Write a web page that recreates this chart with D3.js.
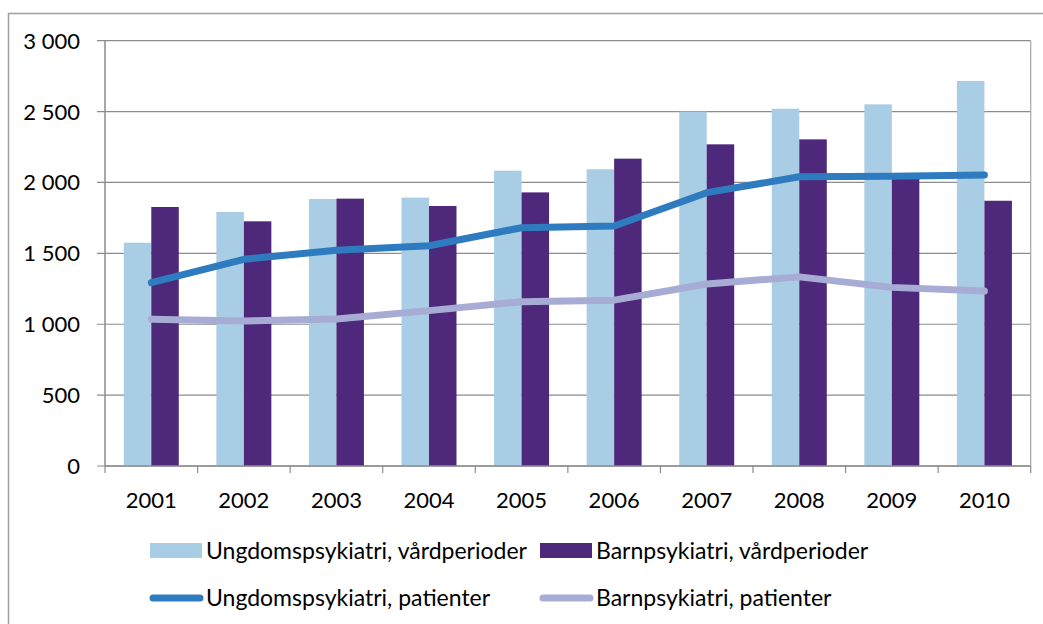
<!DOCTYPE html>
<html lang="sv">
<head>
<meta charset="UTF-8">
<script src="https://d3js.org/d3.v7.min.js"></script>
<title>Vårdperioder och patienter</title>
<style>
  body { margin: 0; background: #fff; }
  text { font-family: Lato, "Open Sans", sans-serif; fill: #000; }
</style>
</head>
<body>
<div id="chart"></div>
<script>
// data
const years = ["2001", "2002", "2003", "2004", "2005", "2006", "2007", "2008", "2009", "2010"];
const ungdomVard = [1575, 1792, 1883, 1893, 2083, 2093, 2500, 2520, 2551, 2716];
const barnVard = [1827, 1726, 1886, 1834, 1930, 2168, 2269, 2304, 2055, 1871];
const ungdomPat = [1293, 1458, 1522, 1554, 1681, 1693, 1928, 2040, 2043, 2053];
const barnPat = [1035, 1023, 1037, 1096, 1159, 1170, 1284, 1334, 1260, 1234];
const yTicks = [0, 500, 1000, 1500, 2000, 2500, 3000];

const width = 1043, height = 624;
const margin = { top: 40.7, right: 12.3, bottom: 158, left: 105 };

const svg = d3.select("#chart").append("svg")
    .attr("width", width)
    .attr("height", height);

// outer frame (cut off by the picture on right and bottom)
svg.append("rect")
    .attr("x", 8.5).attr("y", 13.5)
    .attr("width", 1100).attr("height", 700)
    .attr("fill", "none")
    .attr("stroke", "#a0a0a0")
    .attr("stroke-width", 1.5);

const x = d3.scaleBand()
    .domain(years)
    .range([margin.left, width - margin.right]);

const y = d3.scaleLinear()
    .domain([0, 3000])
    .range([height - margin.bottom, margin.top]);

const fmt = v => d3.format(",")(v).replace(",", " ");

// gridlines
svg.append("g")
    .selectAll("line")
    .data(yTicks)
    .join("line")
    .attr("x1", margin.left - 8).attr("x2", width - margin.right)
    .attr("y1", d => y(d)).attr("y2", d => y(d))
    .attr("stroke", "#8c8c8c")
    .attr("stroke-width", 1.2);

// right edge of plot
svg.append("line")
    .attr("x1", width - margin.right).attr("x2", width - margin.right)
    .attr("y1", margin.top).attr("y2", y(0))
    .attr("stroke", "#a6a6a6").attr("stroke-width", 1.2);

// bars
const groupW = x.bandwidth() * 0.594;
const barW = groupW / 2;
const pad = (x.bandwidth() - groupW) / 2;

svg.append("g").selectAll("rect")
    .data(years)
    .join("rect")
    .attr("x", d => x(d) + pad)
    .attr("y", (d, i) => y(ungdomVard[i]))
    .attr("width", barW)
    .attr("height", (d, i) => y(0) - y(ungdomVard[i]))
    .attr("fill", "#a9cde4");

svg.append("g").selectAll("rect")
    .data(years)
    .join("rect")
    .attr("x", d => x(d) + pad + barW)
    .attr("y", (d, i) => y(barnVard[i]))
    .attr("width", barW)
    .attr("height", (d, i) => y(0) - y(barnVard[i]))
    .attr("fill", "#4e297b");

// axes
const xAxis = svg.append("g")
    .attr("transform", `translate(0,${y(0)})`)
    .call(d3.axisBottom(x).tickSize(0).tickFormat(d => d));
xAxis.select(".domain").remove();
xAxis.selectAll("text")
    .attr("dy", 0)
    .attr("y", 42)
    .attr("font-size", "22px")
    .attr("font-family", "Lato, 'Open Sans', sans-serif");

svg.append("g").selectAll("line")
    .data(d3.range(years.length + 1))
    .join("line")
    .attr("x1", i => margin.left + i * x.step())
    .attr("x2", i => margin.left + i * x.step())
    .attr("y1", y(0)).attr("y2", y(0) + 7)
    .attr("stroke", "#8c8c8c").attr("stroke-width", 1.2);

svg.append("line")
    .attr("x1", margin.left).attr("x2", width - margin.right)
    .attr("y1", y(0)).attr("y2", y(0))
    .attr("stroke", "#8c8c8c").attr("stroke-width", 1.5);

svg.append("line")
    .attr("x1", margin.left).attr("x2", margin.left)
    .attr("y1", margin.top).attr("y2", y(0))
    .attr("stroke", "#8c8c8c").attr("stroke-width", 1.5);

svg.append("g").selectAll("text")
    .data(yTicks)
    .join("text")
    .attr("x", 80)
    .attr("y", d => y(d))
    .attr("dy", "0.36em")
    .attr("text-anchor", "end")
    .attr("font-size", "22px")
    .text(fmt);

// lines
const cx = d => x(d) + x.bandwidth() / 2;
const line = vals => d3.line()
    .x(d => cx(d))
    .y((d, i) => y(vals[i]))(years);

svg.append("path")
    .attr("d", line(barnPat))
    .attr("fill", "none")
    .attr("stroke", "#a6acd4")
    .attr("stroke-width", 7)
    .attr("stroke-linejoin", "round")
    .attr("stroke-linecap", "round");

svg.append("path")
    .attr("d", line(ungdomPat))
    .attr("fill", "none")
    .attr("stroke", "#2e7bbf")
    .attr("stroke-width", 7)
    .attr("stroke-linejoin", "round")
    .attr("stroke-linecap", "round");

// legend
const legend = [
    { name: "Ungdomspsykiatri, vårdperioder", type: "bar", color: "#a9cde4", lx: 150, ly: 551 },
    { name: "Barnpsykiatri, vårdperioder", type: "bar", color: "#4e297b", lx: 540, ly: 551 },
    { name: "Ungdomspsykiatri, patienter", type: "line", color: "#2e7bbf", lx: 150, ly: 598 },
    { name: "Barnpsykiatri, patienter", type: "line", color: "#a6acd4", lx: 540, ly: 598 }
];

const lg = svg.append("g").selectAll("g")
    .data(legend)
    .join("g")
    .attr("transform", d => `translate(${d.lx},${d.ly})`);

lg.filter(d => d.type === "bar").append("rect")
    .attr("x", 0).attr("y", -8)
    .attr("width", 52).attr("height", 15)
    .attr("fill", d => d.color);

lg.filter(d => d.type === "line").append("line")
    .attr("x1", 3).attr("x2", 50)
    .attr("y1", 0).attr("y2", 0)
    .attr("stroke", d => d.color)
    .attr("stroke-width", 7)
    .attr("stroke-linecap", "round");

lg.append("text")
    .attr("x", 56)
    .attr("y", 0)
    .attr("dy", "0.36em")
    .attr("font-size", "23px")
    .text(d => d.name);
</script>
</body>
</html>
